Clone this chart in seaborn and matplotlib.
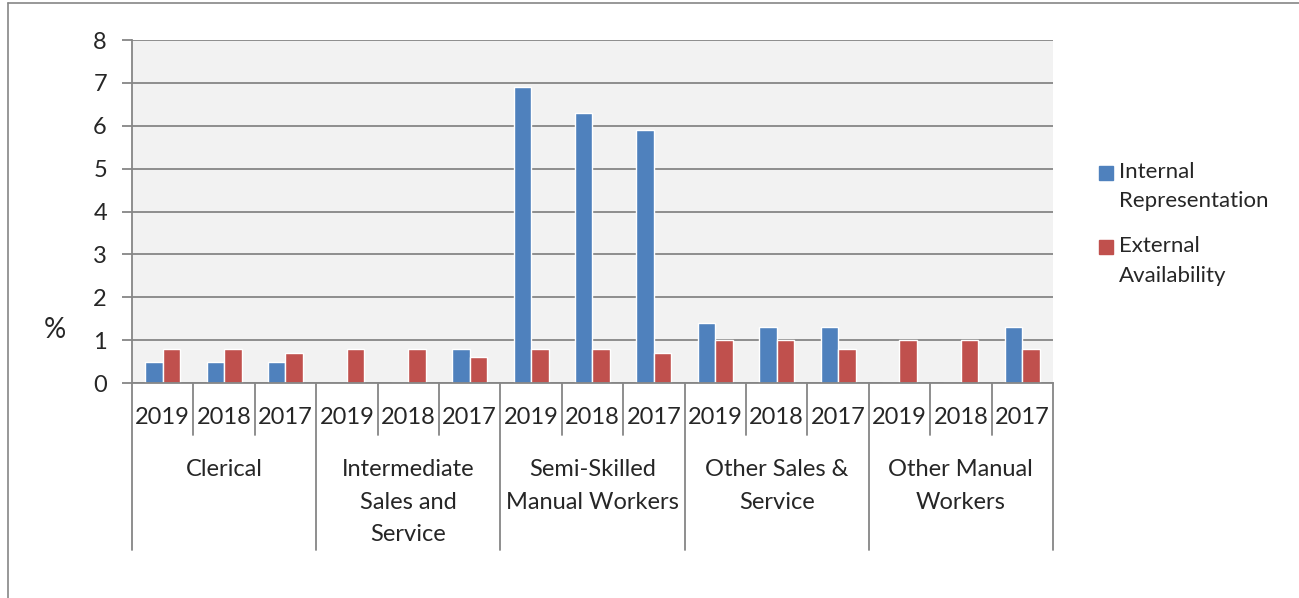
# Bar chart: internal representation vs external availability by occupation group and year

import pandas as pd
import matplotlib.pyplot as plt
import seaborn as sns
from matplotlib.lines import Line2D
from matplotlib.patches import Rectangle

# Data
groups = ['Clerical', 'Intermediate\nSales and\nService', 'Semi-Skilled\nManual Workers',
          'Other Sales &\nService', 'Other Manual\nWorkers']
years = ['2019', '2018', '2017']
internal = [0.5, 0.5, 0.5, 0, 0, 0.8, 6.9, 6.3, 5.9, 1.4, 1.3, 1.3, 0, 0, 1.3]
external = [0.8, 0.8, 0.7, 0.8, 0.8, 0.6, 0.8, 0.8, 0.7, 1.0, 1.0, 0.8, 1.0, 1.0, 0.8]
series = ['Internal\nRepresentation', 'External\nAvailability']

blue = '#4F81BD'
red = '#C0504D'
grey = '#868686'

# One slot per group/year pair, in chart order
slots = [f'{g}|{y}' for g in groups for y in years]
df = pd.DataFrame({'slot': slots, series[0]: internal, series[1]: external})
df = df.melt(id_vars='slot', var_name='series', value_name='value')

sns.set_style('white')
plt.rcParams['font.family'] = ['Lato', 'DejaVu Sans']

fig, ax = plt.subplots(figsize=(12.99, 5.98), dpi=100)
fig.subplots_adjust(left=0.1016, right=0.8106, bottom=0.3595, top=0.9331)

sns.barplot(data=df, x='slot', y='value', hue='series', order=slots, hue_order=series,
            palette=[blue, red], width=0.57, saturation=1, errorbar=None, legend=False, ax=ax)

ax.set_facecolor('#F2F2F2')
ax.set_ylim(0, 8)
ax.set_yticks(range(9))
ax.yaxis.grid(True, color=grey, linewidth=1.3)
ax.set_axisbelow(True)
ax.tick_params(axis='y', labelsize=17, length=7, width=1.3, color=grey, pad=11, left=True)
ax.set_xticks([])
ax.set_xlabel('')
ax.set_ylabel('')
for side in ['top', 'right']:
    ax.spines[side].set_visible(False)
for side in ['left', 'bottom']:
    ax.spines[side].set_color(grey)
    ax.spines[side].set_linewidth(1.3)

# Two-level category axis drawn by hand below the plot
def px(p):
    return (383 - p) / 343

trans = ax.get_xaxis_transform()
for k in range(len(slots) + 1):
    bottom = px(550) if k % 3 == 0 else px(435)
    ax.add_line(Line2D([k - 0.5, k - 0.5], [0, bottom], transform=trans, color=grey,
                       linewidth=1.3, clip_on=False))
for i, s in enumerate(slots):
    ax.text(i, px(417), s.split('|')[1], transform=trans, ha='center', va='center', fontsize=17)
for j, g in enumerate(groups):
    ax.text(3 * j + 1, px(459), g, transform=trans, ha='center', va='top', fontsize=17,
            linespacing=1.68)

fig.text(55 / 1299, 1 - 330 / 598, '%', ha='center', va='center', fontsize=20)

# Legend, Excel style: square next to the first line of each label
W, H = 1299, 598
for (label, color, sq_top, txt_mid) in [(series[0], blue, 166, 186.5), (series[1], red, 240, 261)]:
    fig.add_artist(Rectangle((1099 / W, 1 - (sq_top + 14) / H), 14 / W, 14 / H,
                             color=color, transform=fig.transFigure))
    fig.text(1119 / W, 1 - txt_mid / H, label, ha='left', va='center', fontsize=16,
             linespacing=1.58)

# Outer frame lines (top and left)
fig.add_artist(Line2D([8 / W, 8 / W], [0, 1 - 3 / H], color=grey, linewidth=1.2))
fig.add_artist(Line2D([8 / W, 1], [1 - 3 / H, 1 - 3 / H], color=grey, linewidth=1.2))

fig.savefig('out.png', dpi=100)
